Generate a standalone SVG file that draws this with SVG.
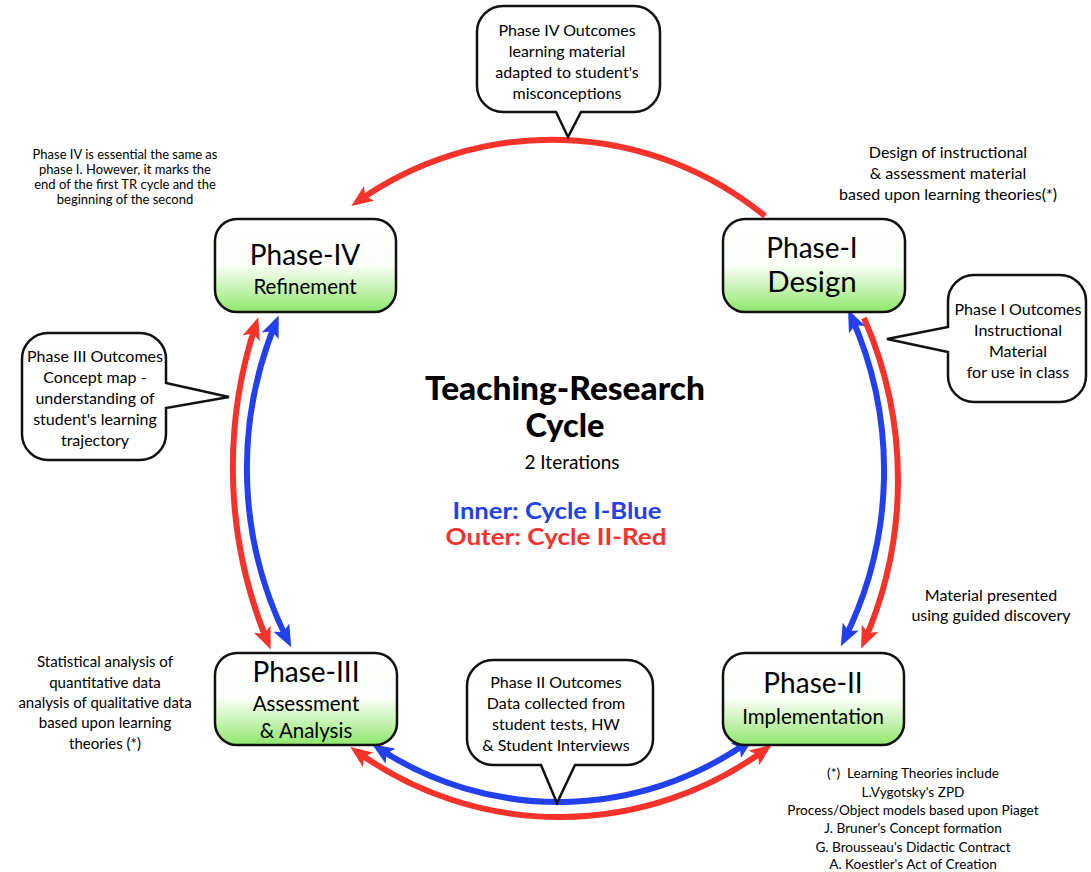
<svg xmlns="http://www.w3.org/2000/svg" width="1091" height="872" viewBox="0 0 1091 872">
  <style>
    text { font-family: Lato, "Open Sans", "Liberation Sans", sans-serif; fill: #000; text-anchor: middle; }
    .phase { stroke: #111; stroke-width: 2.5; fill: url(#boxFill); }
    .bubble { stroke: #111; stroke-width: 2.5; fill: #fff; stroke-linejoin: miter; }
    .big { font-size: 28px; }
    .sub { font-size: 20.5px; }
    .note { font-size: 16px; }
    .note15 { font-size: 15px; }
    .small { font-size: 13px; }
    .foot { font-size: 13.6px; }
    .red { fill: none; stroke: #f5332b; stroke-width: 6; }
    .blue { fill: none; stroke: #2240ee; stroke-width: 6; }
    .title { font-size: 32px; font-weight: 900; }
    .legend { font-size: 22px; font-weight: bold; }
  </style>
  <defs>
    <linearGradient id="boxFill" x1="0" y1="0" x2="0" y2="1">
      <stop offset="0" stop-color="#ffffff"/>
      <stop offset="0.5" stop-color="#fbfff8"/>
      <stop offset="1" stop-color="#8fe66b"/>
    </linearGradient>
    <marker id="headRed" viewBox="0 0 22 18" markerUnits="userSpaceOnUse" markerWidth="22" markerHeight="18" refX="15" refY="9" orient="auto-start-reverse">
      <path d="M0,0 L22,9 L0,18 L5,9 Z" fill="#f5332b"/>
    </marker>
    <marker id="headBlue" viewBox="0 0 22 18" markerUnits="userSpaceOnUse" markerWidth="22" markerHeight="18" refX="15" refY="9" orient="auto-start-reverse">
      <path d="M0,0 L22,9 L0,18 L5,9 Z" fill="#2240ee"/>
    </marker>
  </defs>

  <rect width="1091" height="872" fill="#ffffff"/>

  <!-- cycle arcs -->
  <g id="connectors">
    <path class="red" d="M765,216 A336,336 0 0 0 357,202" marker-end="url(#headRed)"/>
    <path class="red" d="M864,318 A403,403 0 0 1 864,642" marker-end="url(#headRed)"/>
    <path class="blue" d="M851,316 A378,378 0 0 1 844,640" marker-start="url(#headBlue)" marker-end="url(#headBlue)"/>
    <path class="red" d="M256,324 A456,456 0 0 0 268,643" marker-start="url(#headRed)" marker-end="url(#headRed)"/>
    <path class="blue" d="M276,322 A383,383 0 0 0 288,641" marker-start="url(#headBlue)" marker-end="url(#headBlue)"/>
    <path class="red" d="M356,751 A347,347 0 0 0 766,749" marker-start="url(#headRed)" marker-end="url(#headRed)"/>
    <path class="blue" d="M378,748 A329,329 0 0 0 748,742" marker-start="url(#headBlue)" marker-end="url(#headBlue)"/>
  </g>

  <!-- phase boxes -->
  <g id="phase-iv">
    <rect class="phase" x="215" y="219" width="181" height="93" rx="22"/>
    <text class="big" x="305" y="265">Phase-IV</text>
    <text class="sub" x="305" y="294">Refinement</text>
  </g>
  <g id="phase-i">
    <rect class="phase" x="723" y="219" width="182" height="93" rx="22"/>
    <text class="big" x="812" y="258">Phase-I</text>
    <text class="big" style="font-size:29.5px" x="812" y="292">Design</text>
  </g>
  <g id="phase-ii">
    <rect class="phase" x="723" y="653" width="181" height="92" rx="22"/>
    <text class="big" x="813" y="693">Phase-II</text>
    <text class="sub" x="813" y="724">Implementation</text>
  </g>
  <g id="phase-iii">
    <rect class="phase" x="215" y="653" width="182" height="92" rx="22"/>
    <text class="big" x="306" y="682">Phase-III</text>
    <text class="sub" x="306" y="711">Assessment</text>
    <text class="sub" x="306" y="738">&amp; Analysis</text>
  </g>

  <!-- outcome callouts -->
  <g id="outcome-iv">
    <path class="bubble" d="M503,6 H634 A26,26 0 0 1 660,32 V86 A26,26 0 0 1 634,112 H581 L568,137 L556,112 H503 A26,26 0 0 1 477,86 V32 A26,26 0 0 1 503,6 Z"/>
    <text class="note" x="567" y="36">Phase IV Outcomes</text>
    <text class="note" x="567" y="57">learning material</text>
    <text class="note" x="567" y="78">adapted to student's</text>
    <text class="note" x="567" y="99">misconceptions</text>
  </g>
  <g id="outcome-iii">
    <path class="bubble" d="M48,333 H140 A26,26 0 0 1 166,359 V383 L229,397 L166,408 V434 A26,26 0 0 1 140,460 H48 A26,26 0 0 1 22,434 V359 A26,26 0 0 1 48,333 Z"/>
    <text class="note" x="95" y="362">Phase III Outcomes</text>
    <text class="note" x="95" y="383">Concept map -</text>
    <text class="note" x="95" y="404">understanding of</text>
    <text class="note" x="95" y="425">student's learning</text>
    <text class="note" x="95" y="446">trajectory</text>
  </g>
  <g id="outcome-i">
    <path class="bubble" d="M974,275 H1060 A26,26 0 0 1 1086,301 V376 A26,26 0 0 1 1060,402 H974 A26,26 0 0 1 948,376 V352 L887,339 L948,327 V301 A26,26 0 0 1 974,275 Z"/>
    <text class="note" x="1018" y="315">Phase I Outcomes</text>
    <text class="note" x="1018" y="336">Instructional</text>
    <text class="note" x="1018" y="357">Material</text>
    <text class="note" x="1018" y="378">for use in class</text>
  </g>
  <g id="outcome-ii">
    <path class="bubble" d="M493,660 H627 A26,26 0 0 1 653,686 V739 A26,26 0 0 1 627,765 H575 L557,803 L541,765 H493 A26,26 0 0 1 467,739 V686 A26,26 0 0 1 493,660 Z"/>
    <text class="note" x="556" y="688">Phase II Outcomes</text>
    <text class="note" x="556" y="709">Data collected from</text>
    <text class="note" x="556" y="730">student tests, HW</text>
    <text class="note" x="556" y="751">&amp; Student Interviews</text>
  </g>

  <!-- centre title -->
  <g id="title">
    <text class="title" x="565" y="400" textLength="280" lengthAdjust="spacingAndGlyphs">Teaching-Research</text>
    <text class="title" x="565" y="437" textLength="79" lengthAdjust="spacingAndGlyphs">Cycle</text>
    <text class="sub" style="font-size:19px" x="572" y="469">2 Iterations</text>
    <text class="legend" x="557" y="519" style="fill:#2240ee" textLength="209" lengthAdjust="spacingAndGlyphs">Inner: Cycle I-Blue</text>
    <text class="legend" x="556" y="545" style="fill:#f5332b" textLength="221" lengthAdjust="spacingAndGlyphs">Outer: Cycle II-Red</text>
  </g>

  <!-- side notes -->
  <g id="note-refinement">
    <text class="small" x="125" y="159">Phase IV is essential the same as</text>
    <text class="small" x="125" y="174">phase I. However, it marks the</text>
    <text class="small" x="125" y="189">end of the first TR cycle and the</text>
    <text class="small" x="125" y="204">beginning of the second</text>
  </g>
  <g id="note-design">
    <text class="note" x="948" y="158">Design of instructional</text>
    <text class="note" x="948" y="179">&amp; assessment material</text>
    <text class="note" x="948" y="200">based upon learning theories(*)</text>
  </g>
  <g id="note-implementation">
    <text class="note" x="991" y="601">Material presented</text>
    <text class="note" x="991" y="621">using guided discovery</text>
  </g>
  <g id="note-assessment">
    <text class="note15" x="105" y="667">Statistical analysis of</text>
    <text class="note15" x="105" y="688">quantitative data</text>
    <text class="note15" x="105" y="708">analysis of qualitative data</text>
    <text class="note15" x="105" y="728">based upon learning</text>
    <text class="note15" x="105" y="749">theories (*)</text>
  </g>
  <g id="note-theories">
    <text class="foot" x="913" y="778">(*)&#160; Learning Theories include</text>
    <text class="foot" x="913" y="797">L.Vygotsky's ZPD</text>
    <text class="foot" x="913" y="815">Process/Object models based upon Piaget</text>
    <text class="foot" x="913" y="833">J. Bruner's Concept formation</text>
    <text class="foot" x="913" y="852">G. Brousseau's Didactic Contract</text>
    <text class="foot" x="913" y="869">A. Koestler's Act of Creation</text>
  </g>
</svg>
